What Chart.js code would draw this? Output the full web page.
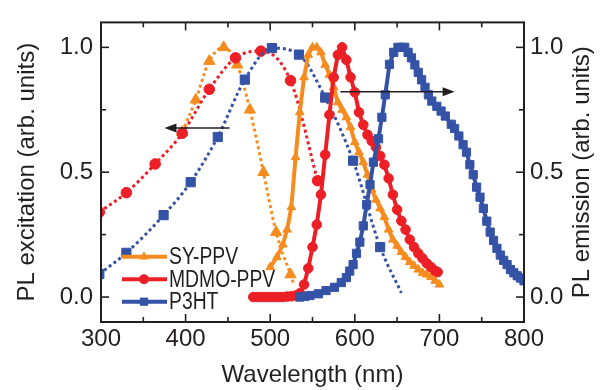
<!DOCTYPE html>
<html>
<head>
<meta charset="utf-8">
<script src="https://cdn.jsdelivr.net/npm/chart.js@4.4.1/dist/chart.umd.min.js"></script>
<style>
  html, body { margin: 0; padding: 0; background: #fff; }
  canvas { display: block; }
</style>
</head>
<body>
<canvas id="plChart" width="602" height="390"></canvas>
<script>
// ====== data (wavelength nm / normalised intensity) ======
// excitation spectra (dotted)
const syExcX   = [396, 412, 428, 445, 461, 476, 492, 507, 524, 528];
const syExcY   = [0.66, 0.79, 0.945, 1.0, 0.93, 0.75, 0.50, 0.26, 0.09, 0.05];
const mdmoExcX = [298, 330, 364, 396, 428, 459, 489, 524, 556];
const mdmoExcY = [0.34, 0.418, 0.533, 0.656, 0.832, 0.958, 0.985, 0.867, 0.466];
const p3htExcX = [298, 330, 374, 406, 438, 470, 502, 534, 565, 598, 630, 655];
const p3htExcY = [0.092, 0.177, 0.328, 0.46, 0.641, 0.871, 0.997, 0.971, 0.799, 0.546, 0.20, 0.017];

// emission spectra (solid)
const syEmX = [500, 508, 515, 520, 525, 530, 535, 540, 545, 550, 555, 560, 565, 570, 575, 580, 585, 590, 595, 600,
               605, 610, 615, 620, 625, 630, 635, 640, 645, 650, 655, 660, 665, 670, 675, 680, 685, 690, 695, 700];
const syEmY = [0.12, 0.16, 0.21, 0.27, 0.36, 0.56, 0.74, 0.88, 0.97, 1.0, 1.0, 0.98, 0.93, 0.89, 0.84, 0.78, 0.75, 0.72, 0.68, 0.62,
               0.58, 0.54, 0.49, 0.43, 0.39, 0.355, 0.32, 0.27, 0.23, 0.205, 0.18, 0.16, 0.14, 0.125, 0.11, 0.097, 0.09, 0.08, 0.065, 0.05];
const mdmoEmX = [480, 485, 490, 495, 500, 505, 510, 515, 520, 525, 530, 535, 540, 545, 550, 555, 560, 565, 570, 575, 580, 585,
                 590, 595, 600, 605, 610, 615, 620, 625, 630, 635, 640, 645, 650, 655, 660, 665, 670, 675, 680, 685, 690, 695, 698];
const mdmoEmY = [0, 0, 0, 0, 0, 0, 0, 0, 0.002, 0.003, 0.006, 0.015, 0.05, 0.115, 0.2, 0.29, 0.41, 0.57, 0.73, 0.88, 0.97, 1.0,
                 0.95, 0.88, 0.82, 0.74, 0.69, 0.65, 0.625, 0.6, 0.565, 0.53, 0.475, 0.41, 0.35, 0.305, 0.27, 0.23, 0.2, 0.175, 0.155, 0.135, 0.12, 0.105, 0.1];
const p3htEmX = [535, 541, 547, 557, 566, 576, 584, 590, 594, 598, 602, 606, 610, 614, 618, 622, 628, 632, 636, 641, 646, 651, 655,
                 659, 663, 667, 671, 675, 679, 683, 687, 691, 697, 702, 707, 714, 718, 723, 728, 732, 736, 740, 744, 748, 752,
                 756, 760, 764, 768, 772, 776, 780, 784, 788, 792, 796, 800];
const p3htEmY = [0.0, 0.003, 0.006, 0.013, 0.026, 0.039, 0.058, 0.078, 0.104, 0.13, 0.175, 0.22, 0.285, 0.37, 0.45, 0.54, 0.634, 0.72, 0.81, 0.932, 0.98, 1.0, 1.0,
                 1.0, 0.98, 0.958, 0.93, 0.90, 0.87, 0.84, 0.81, 0.785, 0.764, 0.745, 0.725, 0.692, 0.675, 0.645, 0.61, 0.58, 0.53, 0.49, 0.44, 0.40, 0.355,
                 0.304, 0.26, 0.227, 0.195, 0.168, 0.147, 0.13, 0.11, 0.097, 0.085, 0.076, 0.065];

const legendNames = ["SY-PPV", "MDMO-PPV", "P3HT"];

// ticks
const xTicks      = [300, 350, 400, 450, 500, 550, 600, 650, 700, 750, 800];
const xTickLabels = [300, 400, 500, 600, 700, 800];
const yTicks      = [0, 0.25, 0.5, 0.75, 1.0];
const yTickLabels = [0, 0.5, 1.0];

const ORANGE = "#f68c1f";
const RED    = "#ec1f27";
const BLUE   = "#3453a6";
const INK    = "#231f20";
const FONT   = "'Liberation Sans', Arial, sans-serif";

function pts(xs, ys) { return xs.map((x, i) => ({ x, y: ys[i] })); }

function dotted(label, xs, ys, color, style, r, lastNoMarker) {
  const radii = xs.map((_, i) => (lastNoMarker && i === xs.length - 1) ? 0 : r);
  return {
    label, data: pts(xs, ys),
    borderColor: color, backgroundColor: color,
    borderWidth: 3, borderDash: [3, 3], borderCapStyle: "butt",
    cubicInterpolationMode: "monotone",
    pointStyle: style, pointRadius: radii,
    pointBackgroundColor: color, pointBorderColor: color, pointBorderWidth: 1,
  };
}

function solid(label, xs, ys, color, style, r) {
  return {
    label, data: pts(xs, ys),
    borderColor: color, backgroundColor: color,
    borderWidth: 4, tension: 0,
    pointStyle: style, pointRadius: r,
    pointBackgroundColor: color, pointBorderColor: color, pointBorderWidth: 1,
  };
}

// first dataset is drawn on top
const datasets = [
  solid("P3HT", p3htEmX, p3htEmY, BLUE, "rect", 5.8),
  solid("MDMO-PPV", mdmoEmX, mdmoEmY, RED, "circle", 4.8),
  solid("SY-PPV", syEmX, syEmY, ORANGE, "triangle", 5),
  dotted("P3HT exc", p3htExcX, p3htExcY, BLUE, "rect", 6.5, true),
  dotted("MDMO-PPV exc", mdmoExcX, mdmoExcY, RED, "circle", 5.3, false),
  dotted("SY-PPV exc", syExcX, syExcY, ORANGE, "triangle", 6.5, true),
];

// small marker helper for the legend
function drawMarker(ctx, style, x, y, r) {
  ctx.beginPath();
  if (style === "circle") ctx.arc(x, y, r, 0, Math.PI * 2);
  else if (style === "rect") { const s = r * Math.SQRT1_2; ctx.rect(x - s, y - s, 2 * s, 2 * s); }
  else {
    ctx.moveTo(x, y - r);
    ctx.lineTo(x + r * Math.sin(2 * Math.PI / 3), y - r * Math.cos(2 * Math.PI / 3));
    ctx.lineTo(x + r * Math.sin(4 * Math.PI / 3), y - r * Math.cos(4 * Math.PI / 3));
    ctx.closePath();
  }
  ctx.fill();
}

function arrow(ctx, x0, x1, y) {
  const dir = Math.sign(x1 - x0);
  ctx.beginPath();
  ctx.moveTo(x0, y); ctx.lineTo(x1 - dir * 10, y);
  ctx.stroke();
  ctx.beginPath();
  ctx.moveTo(x1, y);
  ctx.lineTo(x1 - dir * 12, y - 4.5);
  ctx.lineTo(x1 - dir * 12, y + 4.5);
  ctx.closePath();
  ctx.fill();
}

// ====== frame, inside ticks, arrows, legend, right title ======
const decorPlugin = {
  id: "decor",
  afterDraw(chart) {
    const { ctx, chartArea: a, scales: { x, y } } = chart;
    ctx.save();
    ctx.strokeStyle = INK; ctx.fillStyle = INK;

    ctx.lineWidth = 1.6;
    const seg = (x0, y0, x1, y1) => { ctx.beginPath(); ctx.moveTo(x0, y0); ctx.lineTo(x1, y1); ctx.stroke(); };
    xTicks.forEach(v => {
      const px = x.getPixelForValue(v);
      const len = xTickLabels.includes(v) ? 8 : 5;
      seg(px, a.bottom, px, a.bottom - len);
      seg(px, a.top, px, a.top + len);
    });
    yTicks.forEach(v => {
      const py = y.getPixelForValue(v);
      const len = yTickLabels.includes(v) ? 8 : 5;
      seg(a.left, py, a.left + len, py);
      seg(a.right, py, a.right - len, py);
    });

    ctx.lineWidth = 2;
    ctx.strokeRect(a.left, a.top, a.right - a.left, a.bottom - a.top);

    // arrows: excitation -> left axis, emission -> right axis
    ctx.lineWidth = 1.6;
    arrow(ctx, x.getPixelForValue(452), x.getPixelForValue(375), y.getPixelForValue(0.677));
    arrow(ctx, x.getPixelForValue(583), x.getPixelForValue(718), y.getPixelForValue(0.822));

    // legend
    const legendColors = [ORANGE, RED, BLUE];
    const legendStyles = ["triangle", "circle", "rect"];
    const legendR = [5.5, 5, 5.8];
    legendNames.forEach((name, i) => {
      const ly = 256.7 + i * 22.5;
      ctx.strokeStyle = legendColors[i]; ctx.fillStyle = legendColors[i];
      ctx.lineWidth = 4;
      seg(122, ly, 167, ly);
      drawMarker(ctx, legendStyles[i], 144, ly, legendR[i]);
      ctx.save();
      ctx.fillStyle = INK;
      ctx.font = "23px " + FONT;
      ctx.textBaseline = "middle";
      ctx.translate(169, ly + 1);
      ctx.scale(0.84, 1);
      ctx.fillText(name, 0, 0);
      ctx.restore();
    });

    // right axis title reads bottom-to-top
    ctx.fillStyle = INK;
    ctx.font = "24px " + FONT;
    ctx.textAlign = "center";
    ctx.textBaseline = "middle";
    ctx.translate(582, (a.top + a.bottom) / 2);
    ctx.rotate(-Math.PI / 2);
    ctx.fillText("PL emission (arb. units)", 0, 0);
    ctx.restore();
  }
};

const tickFont = { family: FONT, size: 24 };

new Chart(document.getElementById("plChart"), {
  type: "line",
  data: { datasets },
  plugins: [decorPlugin],
  options: {
    responsive: false, animation: false,
    layout: { padding: { top: 13, left: 0, right: 0, bottom: 0 } },
    plugins: { legend: { display: false }, tooltip: { enabled: false } },
    scales: {
      x: {
        type: "linear", min: 300, max: 800,
        afterBuildTicks: s => { s.ticks = xTicks.map(v => ({ value: v })); },
        afterFit: s => { s.height = 68; },
        grid: { display: false, drawTicks: false },
        border: { display: false },
        ticks: {
          font: tickFont, color: INK, padding: 3, maxRotation: 0, autoSkip: false,
          callback: v => xTickLabels.includes(v) ? String(v) : "",
        },
        title: { display: true, text: "Wavelength (nm)", font: tickFont, color: INK, padding: { top: 0, bottom: 0 } },
      },
      y: {
        type: "linear", position: "left", min: -0.1, max: 1.1,
        afterBuildTicks: s => { s.ticks = yTicks.map(v => ({ value: v })); },
        afterFit: s => { s.width = 101; },
        grid: { display: false, drawTicks: false },
        border: { display: false },
        ticks: {
          font: tickFont, color: INK, padding: 8, autoSkip: false,
          callback: v => yTickLabels.includes(v) ? v.toFixed(1) : "",
        },
        title: { display: true, text: "PL excitation (arb. units)", font: tickFont, color: INK, padding: { top: 13, bottom: 0 } },
      },
      y2: {
        type: "linear", position: "right", min: -0.1, max: 1.1,
        afterBuildTicks: s => { s.ticks = yTicks.map(v => ({ value: v })); },
        afterFit: s => { s.width = 78; },
        grid: { display: false, drawTicks: false },
        border: { display: false },
        ticks: {
          font: tickFont, color: INK, padding: 6, autoSkip: false,
          callback: v => yTickLabels.includes(v) ? v.toFixed(1) : "",
        },
      },
    },
  },
});
</script>
</body>
</html>
